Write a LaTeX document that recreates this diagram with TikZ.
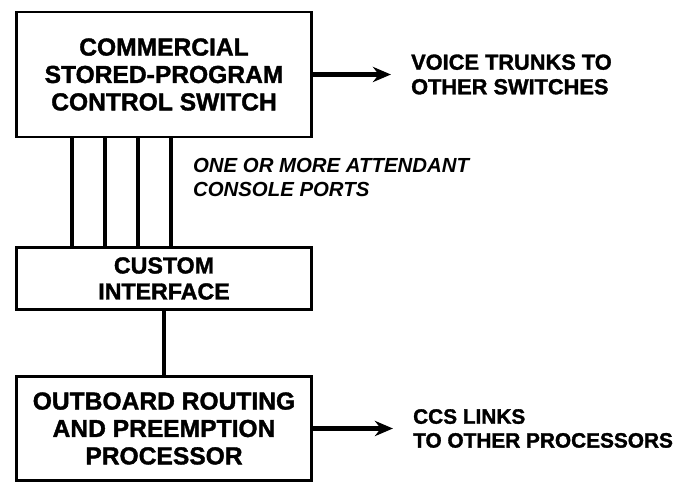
\documentclass[tikz,border=0pt]{standalone}
\usepackage{fontspec}
\setmainfont{Liberation Sans}[BoldFeatures={FakeBold=1.5}]
\usetikzlibrary{positioning, arrows.meta}
\tikzstyle{block} = [rectangle, draw=black, line width=2pt, minimum width=7.375cm, text centered, align=center, font=\bfseries\fontsize{17.5}{19.5}\selectfont]
\tikzstyle{outtext} = [inner sep=0pt, align=left, font=\bfseries\fontsize{15.5}{17.5}\selectfont]
\tikzstyle{note} = [inner sep=0pt, align=left, font=\bfseries\itshape\fontsize{14.5}{16.8}\selectfont]
\tikzstyle{arrow} = [line width=3.2pt, -{Stealth[length=0.45cm, width=0.38cm]}]
\tikzstyle{port} = [line width=3.4pt]

\begin{document}
\begin{tikzpicture}[node distance=3.75cm]
    \useasboundingbox (0,0) rectangle (17.075,-12.075);
    \node (switch) [block, minimum height=3.125cm] at (4.1,-1.8625) {COMMERCIAL\\STORED-PROGRAM\\CONTROL SWITCH};
    \node (iface) [block, minimum height=1.55cm, below of=switch, yshift=-1.35cm, font=\bfseries\fontsize{16.5}{18.5}\selectfont] {CUSTOM\\INTERFACE};
    \node (proc) [block, minimum height=2.6cm, below of=iface] {OUTBOARD ROUTING\\AND PREEMPTION\\PROCESSOR};
    \node (voice) [outtext, right=2.45cm of switch] {VOICE TRUNKS TO\\OTHER SWITCHES};
    \draw [arrow] (switch) -- ([xshift=-0.5cm]voice.west);
    \foreach \dx in {-2.3,-1.475,-0.65,0.175}
        \draw [port] ([xshift=\dx cm]switch.south) -- ([xshift=\dx cm]switch.south |- iface.north);
    \node (ports) [note, anchor=west] at ([xshift=0.72cm, yshift=-0.975cm]switch.south) {ONE OR MORE ATTENDANT\\CONSOLE PORTS};
    \draw [port] (iface) -- (proc);
    \node (ccs) [outtext, right=2.5cm of proc, font=\bfseries\fontsize{14.8}{17}\selectfont] {CCS LINKS\\TO OTHER PROCESSORS};
    \draw [arrow] (proc) -- ([xshift=-0.5cm]ccs.west);
\end{tikzpicture}
\end{document}
